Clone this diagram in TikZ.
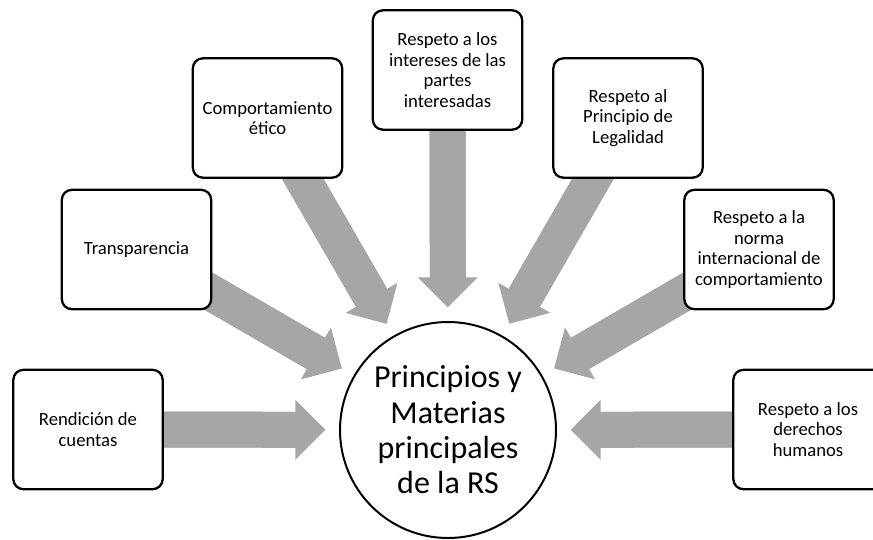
\documentclass[tikz,border=0pt]{standalone}
\usepackage{fontspec}
\setmainfont{Carlito}
\usetikzlibrary{arrows.meta,calc,backgrounds}
\definecolor{arrowgray}{RGB}{166,166,166}

\begin{document}
\begin{tikzpicture}[
			x=0.75pt, y=-0.75pt,
			main/.style = {draw, circle, line width=1.5pt, fill=white, minimum size=162pt, inner sep=0pt, align=center, font=\fontsize{24}{26.5}\selectfont},
			box/.style = {draw, line width=1.7pt, rounded corners=7.5pt, fill=white, minimum width=112pt, minimum height=89.5pt, align=center, font=\fontsize{14}{15.3}\selectfont},
			shaft/.style = {arrowgray, line width=27pt, shorten >=21pt},
			flow/.style = {arrowgray, line width=27pt, -{Triangle[length=22.5pt, width=45pt, line width=0pt]}}
		]
		\useasboundingbox (0,0) rectangle (873,539);
		\clip (0,0) rectangle (873,539);
		\node[main] (rs) at (448,430) {Principios y\\Materias\\principales\\de la RS};
		% Draw the boxes around the circle.
		\node[box] (rend) at (88,429.5) {Rendición de\\cuentas};
		\node[box] (transp) at (136.5,249.5) {Transparencia};
		\node[box] (comp) at (267.5,118) {Comportamiento\\ético};
		\node[box] (inter) at (447.5,70) {Respeto a los\\intereses de las\\partes\\interesadas};
		\node[box] (legal) at (628,118) {Respeto al\\Principio de\\Legalidad};
		\node[box] (norma) at (759,249.5) {Respeto a la\\norma\\internacional de\\comportamiento};
		\node[box] (derechos) at (808,429.5) {Respeto a los\\derechos\\humanos};
		% Draw the arrows behind the boxes.
		\begin{scope}[on background layer]
			\foreach \n in {rend,transp,comp,inter,legal,norma,derechos} {
				\coordinate (t-\n) at ($(rs.center)!92pt!(\n.center)$);
				\draw[flow] (\n.center) -- (t-\n);
				\draw[shaft] (\n.center) -- (t-\n);
			}
		\end{scope}
	\end{tikzpicture}
\end{document}
